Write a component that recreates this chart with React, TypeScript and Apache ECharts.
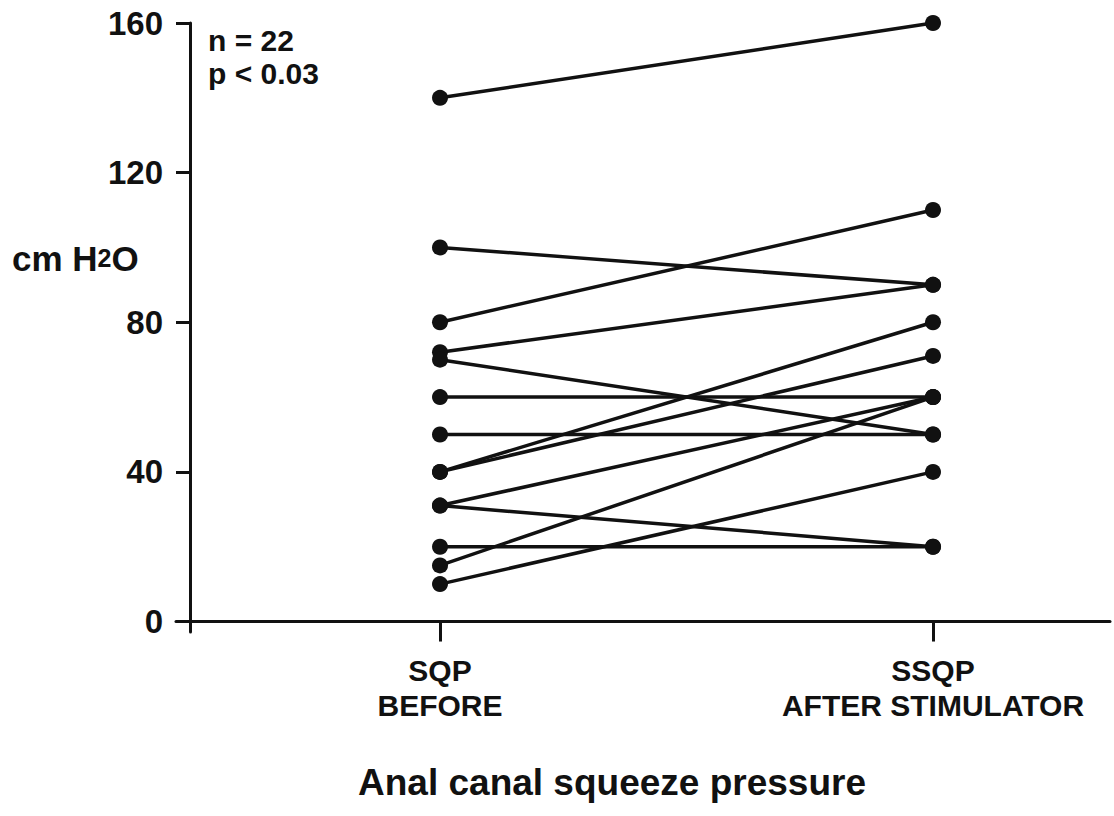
import React, { useEffect, useRef } from "react";
import * as echarts from "echarts";

// Paired measurements: anal canal squeeze pressure (cm H2O)
const groupLabels = ["SQP\nBEFORE", "SSQP\nAFTER STIMULATOR"];
const groupPositions = [1, 2];
const beforeValues = [140, 100, 80, 72, 70, 60, 50, 40, 40, 31, 31, 20, 15, 10];
const afterValues = [160, 90, 110, 90, 50, 60, 50, 80, 71, 60, 20, 20, 60, 40];
const yTickValues = [0, 40, 80, 120, 160];
const statLines = ["n = 22", "p < 0.03"];
const yAxisTitle = "cm H₂O";
const xAxisTitle = "Anal canal squeeze pressure";

const FONT = "'Liberation Sans', Arial, Helvetica, sans-serif";
const INK = "#111111";

export default function App() {
  const ref = useRef<HTMLDivElement>(null);

  useEffect(() => {
    if (!ref.current) return;
    const chart = echarts.init(ref.current, undefined, { renderer: "svg" });

    const series = beforeValues.map((b, i) => ({
      type: "line" as const,
      data: [
        [groupPositions[0], b],
        [groupPositions[1], afterValues[i]],
      ],
      symbol: "circle",
      symbolSize: 16,
      showSymbol: true,
      itemStyle: { color: INK },
      lineStyle: { color: INK, width: 3.5 },
      emphasis: { disabled: true },
      silent: true,
      z: 3,
    }));

    chart.setOption({
      animation: false,
      backgroundColor: "#ffffff",
      grid: { left: 176, right: 4, top: 23, bottom: 184, containLabel: false },
      xAxis: {
        type: "value",
        min: 0.4645,
        max: 2.359,
        axisLine: { onZero: true, lineStyle: { color: INK, width: 3 } },
        axisTick: {
          show: true,
          customValues: groupPositions,
          length: 20,
          inside: false,
          lineStyle: { color: INK, width: 3 },
        },
        axisLabel: {
          customValues: groupPositions,
          formatter: (v: number) => groupLabels[groupPositions.indexOf(v)] ?? "",
          margin: 21,
          fontFamily: FONT,
          fontWeight: "bold",
          fontSize: 30,
          lineHeight: 35,
          color: INK,
          align: "center",
        },
        splitLine: { show: false },
      },
      yAxis: {
        type: "value",
        min: -2.8,
        max: 160,
        offset: -14,
        axisLine: { show: true, onZero: false, lineStyle: { color: INK, width: 3 } },
        axisTick: {
          show: true,
          customValues: yTickValues,
          length: 14,
          inside: false,
          lineStyle: { color: INK, width: 3 },
        },
        axisLabel: {
          customValues: yTickValues,
          margin: 27,
          fontFamily: FONT,
          fontWeight: "bold",
          fontSize: 33,
          color: INK,
          padding: [6, 0, 0, 0],
        },
        splitLine: { show: false },
      },
      graphic: [
        {
          type: "text",
          left: 208,
          top: 24,
          style: {
            text: statLines.join("\n"),
            font: `bold 30px ${FONT}`,
            lineHeight: 33,
            fill: INK,
          },
        },
        {
          type: "text",
          x: 12,
          y: 258,
          style: {
            text: "{a|cm H}{b|2}{a|O}",
            rich: {
              a: { fontFamily: FONT, fontWeight: "bold", fontSize: 35, fill: INK, color: INK },
              b: { fontFamily: FONT, fontWeight: "bold", fontSize: 25, fill: INK, color: INK },
            },
            verticalAlign: "middle",
          },
        },
        {
          type: "text",
          x: 612,
          y: 782,
          style: {
            text: xAxisTitle,
            font: `bold 37px ${FONT}`,
            fill: INK,
            align: "center",
            verticalAlign: "middle",
          },
        },
      ],
      series,
    });

    return () => chart.dispose();
  }, []);

  return (
    <div
      ref={ref}
      aria-label={yAxisTitle}
      style={{ position: "fixed", left: 0, top: 0, width: 1114, height: 816 }}
    />
  );
}
